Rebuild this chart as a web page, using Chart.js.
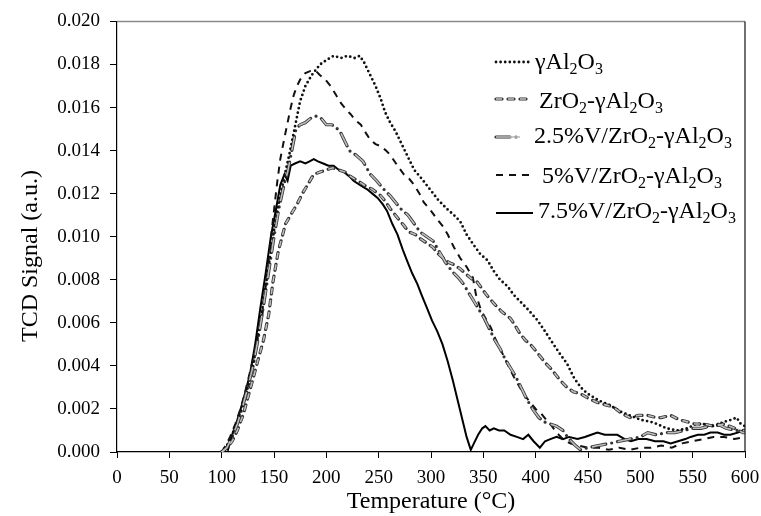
<!DOCTYPE html>
<html>
<head>
<meta charset="utf-8">
<script src="https://cdn.jsdelivr.net/npm/chart.js@4.4.0/dist/chart.umd.min.js"></script>
<style>
  html, body { margin: 0; padding: 0; background: #fff; }
  #wrap { width: 761px; height: 516px; }
</style>
</head>
<body>
<div id="wrap"><canvas id="tpdChart" width="761" height="516"></canvas></div>
<script>
// TPD profiles, temperature in °C, TCD signal in a.u.
const seriesNames = ['γAl_2O_3', 'ZrO_2-γAl_2O_3', '2.5%V/ZrO_2-γAl_2O_3', '5%V/ZrO_2-γAl_2O_3', '7.5%V/ZrO_2-γAl_2O_3'];

const alTemp = [100, 105, 110, 115, 120, 125, 130, 135, 140, 145, 150, 155, 160, 165, 170, 175, 180, 186, 194, 200, 207, 214, 220, 227, 232, 236, 242, 247, 252, 256, 261, 266, 271, 277, 284, 291, 299, 307, 315, 322, 328, 334, 341, 347, 354, 360, 366, 373, 379, 385, 393, 402, 409, 417, 424, 430, 436, 440, 445, 450, 460, 470, 480, 490, 500, 510, 516, 525, 535, 545, 553, 560, 570, 580, 587, 592, 596, 600];
const alSignal = [0.0000, 0.0003, 0.0008, 0.0014, 0.0022, 0.0030, 0.0040, 0.0055, 0.0070, 0.0087, 0.0103, 0.0117, 0.0128, 0.0139, 0.0151, 0.0163, 0.0170, 0.0175, 0.0180, 0.0182, 0.0184, 0.0183, 0.0184, 0.0183, 0.0184, 0.0181, 0.0175, 0.0170, 0.0164, 0.0158, 0.0153, 0.0149, 0.0144, 0.0138, 0.0131, 0.0127, 0.0122, 0.0117, 0.0113, 0.0110, 0.0107, 0.0101, 0.0096, 0.0092, 0.0089, 0.0084, 0.0080, 0.0077, 0.0073, 0.0070, 0.0066, 0.0061, 0.0056, 0.0050, 0.0045, 0.0041, 0.0035, 0.0032, 0.0029, 0.0027, 0.0024, 0.0022, 0.0019, 0.0017, 0.0015, 0.0014, 0.0013, 0.0011, 0.0010, 0.0011, 0.0013, 0.0013, 0.0012, 0.0014, 0.0015, 0.0016, 0.0013, 0.0012];

const zrTemp = [100, 105, 110, 115, 121, 126, 131, 136, 140, 145, 149, 154, 161, 167, 172, 177, 182, 188, 194, 200, 206, 212, 218, 223, 230, 236, 244, 252, 257, 261, 266, 271, 276, 280, 285, 290, 296, 302, 307, 312, 317, 322, 328, 335, 340, 344, 347, 353, 360, 368, 376, 380, 385, 390, 395, 400, 405, 410, 414, 419, 424, 430, 436, 443, 450, 459, 466, 474, 482, 490, 498, 507, 515, 520, 529, 537, 545, 552, 560, 570, 580, 590, 598, 600];
const zrSignal = [0.0000, 0.0002, 0.0005, 0.0010, 0.0018, 0.0027, 0.0036, 0.0045, 0.0052, 0.0064, 0.0079, 0.0093, 0.0106, 0.0111, 0.0115, 0.0120, 0.0124, 0.0129, 0.0130, 0.0131, 0.0132, 0.0131, 0.0130, 0.0128, 0.0126, 0.0124, 0.0122, 0.0119, 0.0116, 0.0113, 0.0110, 0.0107, 0.0104, 0.0102, 0.0101, 0.0099, 0.0097, 0.0095, 0.0092, 0.0090, 0.0088, 0.0087, 0.0085, 0.0082, 0.0080, 0.0079, 0.0077, 0.0073, 0.0069, 0.0065, 0.0062, 0.0059, 0.0055, 0.0052, 0.0050, 0.0047, 0.0044, 0.0041, 0.0039, 0.0036, 0.0033, 0.0030, 0.0028, 0.0027, 0.0025, 0.0023, 0.0022, 0.0021, 0.0018, 0.0016, 0.0017, 0.0017, 0.0016, 0.0016, 0.0017, 0.0015, 0.0014, 0.0013, 0.0013, 0.0012, 0.0013, 0.0011, 0.0009, 0.0009];

const v25Temp = [100, 105, 110, 115, 120, 125, 130, 135, 140, 145, 150, 155, 160, 163, 167, 171, 175, 180, 185, 190, 195, 200, 205, 209, 214, 218, 222, 228, 235, 242, 248, 255, 261, 266, 271, 278, 284, 290, 296, 302, 308, 314, 320, 326, 331, 336, 341, 346, 351, 356, 361, 366, 371, 376, 381, 386, 391, 397, 403, 408, 414, 420, 426, 432, 438, 443, 450, 460, 471, 480, 490, 500, 507, 515, 525, 533, 542, 550, 558, 566, 574, 582, 592, 600];
const v25Signal = [0.0000, 0.0002, 0.0007, 0.0013, 0.0021, 0.0030, 0.0040, 0.0053, 0.0068, 0.0084, 0.0100, 0.0114, 0.0125, 0.0130, 0.0140, 0.0150, 0.0152, 0.0153, 0.0155, 0.0156, 0.0155, 0.0152, 0.0152, 0.0151, 0.0148, 0.0144, 0.0140, 0.0138, 0.0135, 0.0129, 0.0126, 0.0122, 0.0119, 0.0116, 0.0113, 0.0110, 0.0106, 0.0102, 0.0100, 0.0098, 0.0093, 0.0088, 0.0084, 0.0081, 0.0078, 0.0074, 0.0070, 0.0066, 0.0062, 0.0057, 0.0052, 0.0048, 0.0043, 0.0039, 0.0035, 0.0030, 0.0025, 0.0020, 0.0016, 0.0014, 0.0013, 0.0012, 0.0010, 0.0006, 0.0003, 0.0001, 0.0002, 0.0003, 0.0004, 0.0005, 0.0006, 0.0007, 0.0009, 0.0008, 0.0009, 0.0009, 0.0010, 0.0011, 0.0011, 0.0012, 0.0013, 0.0011, 0.0010, 0.0010];

const v5Temp = [100, 104, 108, 113, 118, 123, 128, 133, 139, 144, 149, 153, 156, 160, 163, 166, 169, 172, 175, 180, 185, 190, 194, 199, 204, 209, 214, 219, 223, 228, 233, 238, 242, 247, 252, 257, 261, 268, 274, 279, 284, 289, 293, 300, 306, 311, 316, 322, 328, 334, 340, 343, 347, 351, 357, 362, 367, 373, 379, 385, 390, 395, 400, 405, 410, 414, 420, 426, 433, 440, 450, 460, 470, 480, 490, 500, 510, 520, 530, 540, 550, 560, 570, 580, 590, 600];
const v5Signal = [0.0000, 0.0003, 0.0007, 0.0013, 0.0020, 0.0029, 0.0039, 0.0050, 0.0064, 0.0085, 0.0108, 0.0125, 0.0136, 0.0146, 0.0153, 0.0160, 0.0166, 0.0170, 0.0173, 0.0176, 0.0177, 0.0177, 0.0175, 0.0173, 0.0170, 0.0166, 0.0162, 0.0159, 0.0157, 0.0154, 0.0152, 0.0148, 0.0145, 0.0143, 0.0142, 0.0140, 0.0138, 0.0133, 0.0129, 0.0127, 0.0124, 0.0120, 0.0116, 0.0112, 0.0108, 0.0105, 0.0101, 0.0095, 0.0090, 0.0086, 0.0081, 0.0073, 0.0067, 0.0063, 0.0058, 0.0052, 0.0047, 0.0041, 0.0035, 0.0030, 0.0026, 0.0023, 0.0020, 0.0018, 0.0015, 0.0013, 0.0009, 0.0006, 0.0004, 0.0003, 0.0002, 0.0002, 0.0001, 0.0002, 0.0001, 0.0002, 0.0002, 0.0003, 0.0002, 0.0004, 0.0005, 0.0006, 0.0007, 0.0007, 0.0006, 0.0007];

const v75Temp = [100, 103, 106, 110, 115, 120, 127, 132, 137, 142, 147, 152, 156, 160, 163, 166, 170, 175, 180, 184, 188, 192, 197, 202, 207, 212, 217, 222, 226, 232, 239, 244, 249, 254, 258, 263, 268, 273, 277, 282, 287, 291, 296, 301, 306, 311, 316, 321, 325, 330, 334, 338, 341, 345, 349, 352, 356, 360, 365, 370, 376, 382, 388, 393, 398, 404, 409, 414, 420, 426, 432, 440, 447, 453, 459, 466, 472, 478, 485, 491, 498, 506, 514, 522, 529, 536, 543, 548, 555, 561, 567, 574, 580, 586, 593, 600];
const v75Signal = [0.0000, 0.0002, 0.0001, 0.0008, 0.0015, 0.0023, 0.0036, 0.0050, 0.0067, 0.0083, 0.0100, 0.0113, 0.0124, 0.0129, 0.0126, 0.0133, 0.0134, 0.0135, 0.0134, 0.0135, 0.0136, 0.0135, 0.0134, 0.0133, 0.0133, 0.0131, 0.0130, 0.0128, 0.0126, 0.0124, 0.0122, 0.0120, 0.0118, 0.0115, 0.0112, 0.0106, 0.0101, 0.0094, 0.0089, 0.0083, 0.0078, 0.0073, 0.0067, 0.0061, 0.0056, 0.0050, 0.0042, 0.0033, 0.0025, 0.0015, 0.0007, 0.0001, 0.0004, 0.0008, 0.0011, 0.0012, 0.0010, 0.0011, 0.0010, 0.0010, 0.0008, 0.0007, 0.0006, 0.0008, 0.0005, 0.0002, 0.0005, 0.0006, 0.0007, 0.0006, 0.0007, 0.0006, 0.0007, 0.0008, 0.0009, 0.0008, 0.0008, 0.0008, 0.0006, 0.0005, 0.0006, 0.0006, 0.0005, 0.0005, 0.0004, 0.0005, 0.0006, 0.0007, 0.0008, 0.0008, 0.0009, 0.0009, 0.0008, 0.0008, 0.0009, 0.0010];

const xTitle = 'Temperature (°C)';
const yTitle = 'TCD Signal (a.u.)';

const FONT = "'Liberation Serif', 'Times New Roman', serif";

function toPoints(temps, values) {
  return temps.map((t, i) => ({ x: t, y: values[i] }));
}
function plainName(s) {
  return s.replace(/_(\d)/g, (m, d) => String.fromCharCode(0x2080 + Number(d)));
}

// line looks; hollow ones are drawn twice (dark outline, light core)
const looks = [
  { outer: { color: '#111', width: 2.8, dash: [0, 4.6], cap: 'round' } },
  { outer: { color: '#333', width: 3.2, dash: [6, 6], cap: 'round' },
    inner: { color: '#bdbdbd', width: 1.6, dash: [6, 6], cap: 'butt' } },
  { outer: { color: '#333', width: 3.2, dash: [14, 6, 0, 6], cap: 'round' },
    inner: { color: '#bdbdbd', width: 1.6, dash: [14, 6, 0, 6], cap: 'butt' } },
  { outer: { color: '#111', width: 2, dash: [7, 6], cap: 'butt' } },
  { outer: { color: '#000', width: 2, dash: [], cap: 'butt' } }
];

const seriesData = [
  toPoints(alTemp, alSignal),
  toPoints(zrTemp, zrSignal),
  toPoints(v25Temp, v25Signal),
  toPoints(v5Temp, v5Signal),
  toPoints(v75Temp, v75Signal)
];

const datasets = [];
seriesData.forEach((pts, i) => {
  const lk = looks[i];
  datasets.push({
    label: plainName(seriesNames[i]),
    data: pts,
    borderColor: lk.outer.color,
    borderWidth: lk.outer.width,
    borderDash: lk.outer.dash,
    borderCapStyle: lk.outer.cap,
    pointRadius: 0,
    tension: 0,
    fill: false,
    order: 2
  });
  if (lk.inner) {
    datasets.push({
      label: plainName(seriesNames[i]) + ' core',
      data: pts,
      borderColor: lk.inner.color,
      borderWidth: lk.inner.width,
      borderDash: lk.inner.dash,
      borderCapStyle: lk.inner.cap,
      pointRadius: 0,
      tension: 0,
      fill: false,
      order: 1
    });
  }
});

// legend rows: sample line y, sample end x, text x, text baseline
const legendRows = [
  { ly: 62, lx2: 530, tx: 535, ty: 69 },
  { ly: 99, lx2: 530, tx: 539, ty: 108 },
  { ly: 137, lx2: 520, tx: 534, ty: 143 },
  { ly: 175, lx2: 533, tx: 542, ty: 183 },
  { ly: 213, lx2: 533, tx: 538, ty: 218 }
];

function strokeSample(ctx, st, x1, x2, y) {
  ctx.save();
  ctx.strokeStyle = st.color;
  ctx.lineWidth = st.width;
  ctx.setLineDash(st.dash);
  ctx.lineCap = st.cap;
  ctx.beginPath();
  ctx.moveTo(x1, y);
  ctx.lineTo(x2, y);
  ctx.stroke();
  ctx.restore();
}

function drawRich(ctx, str, x, y) {
  const parts = str.split(/(_\d)/).filter(p => p.length);
  ctx.textAlign = 'left';
  ctx.textBaseline = 'alphabetic';
  parts.forEach(p => {
    if (p[0] === '_') {
      ctx.font = '16px ' + FONT;
      ctx.fillText(p.slice(1), x, y + 5);
      x += ctx.measureText(p.slice(1)).width;
    } else {
      ctx.font = '24px ' + FONT;
      ctx.fillText(p, x, y);
      x += ctx.measureText(p).width;
    }
  });
}

const decorPlugin = {
  id: 'decor',
  afterDraw(chart) {
    const { ctx, chartArea: a } = chart;
    ctx.save();
    // frame: grey top edge, dark right edge
    ctx.lineWidth = 1.5;
    ctx.strokeStyle = '#8a8a8a';
    ctx.beginPath();
    ctx.moveTo(a.left, a.top);
    ctx.lineTo(a.right, a.top);
    ctx.stroke();
    ctx.strokeStyle = '#111';
    ctx.lineWidth = 1.2;
    ctx.beginPath();
    ctx.moveTo(a.right, a.top);
    ctx.lineTo(a.right, a.bottom);
    ctx.stroke();

    // legend
    ctx.fillStyle = '#000';
    legendRows.forEach((r, i) => {
      const lk = looks[i];
      strokeSample(ctx, lk.outer, 496, r.lx2, r.ly);
      if (lk.inner) {
        const core = Object.assign({}, lk.inner);
        if (i === 2) core.dash = [];
        strokeSample(ctx, core, 496, r.lx2, r.ly);
      }
      drawRich(ctx, seriesNames[i], r.tx, r.ty);
    });

    // y axis title
    ctx.translate(37, 256);
    ctx.rotate(-Math.PI / 2);
    ctx.font = '24px ' + FONT;
    ctx.textAlign = 'center';
    ctx.textBaseline = 'alphabetic';
    ctx.fillText(yTitle, 0, 0);
    ctx.restore();
  }
};

new Chart(document.getElementById('tpdChart'), {
  type: 'line',
  data: { datasets: datasets },
  options: {
    responsive: false,
    animation: false,
    devicePixelRatio: 1,
    layout: { padding: { left: 0, right: 0, top: 19, bottom: 0 } },
    scales: {
      x: {
        type: 'linear',
        min: 0,
        max: 600,
        afterFit: s => { s.height = 64; s.paddingLeft = 0; s.paddingRight = 16; },
        ticks: { stepSize: 50, color: '#000', padding: 9, font: { family: FONT, size: 19 }, maxRotation: 0 },
        grid: { drawOnChartArea: false, drawTicks: true, tickLength: 6, color: '#000', lineWidth: 1 },
        border: { color: '#000', width: 1.2 },
        title: { display: true, text: xTitle, color: '#000', font: { family: FONT, size: 24 }, padding: { top: 0, bottom: 0 } }
      },
      y: {
        min: 0,
        max: 0.02,
        afterFit: s => { s.width = 117; },
        ticks: { stepSize: 0.002, color: '#000', padding: 10, font: { family: FONT, size: 19 }, callback: v => v.toFixed(3) },
        grid: { drawOnChartArea: false, drawTicks: true, tickLength: 7, color: '#000', lineWidth: 1 },
        border: { color: '#000', width: 1.2 }
      }
    },
    plugins: {
      legend: { display: false },
      tooltip: { enabled: false }
    }
  },
  plugins: [decorPlugin]
});
</script>
</body>
</html>
